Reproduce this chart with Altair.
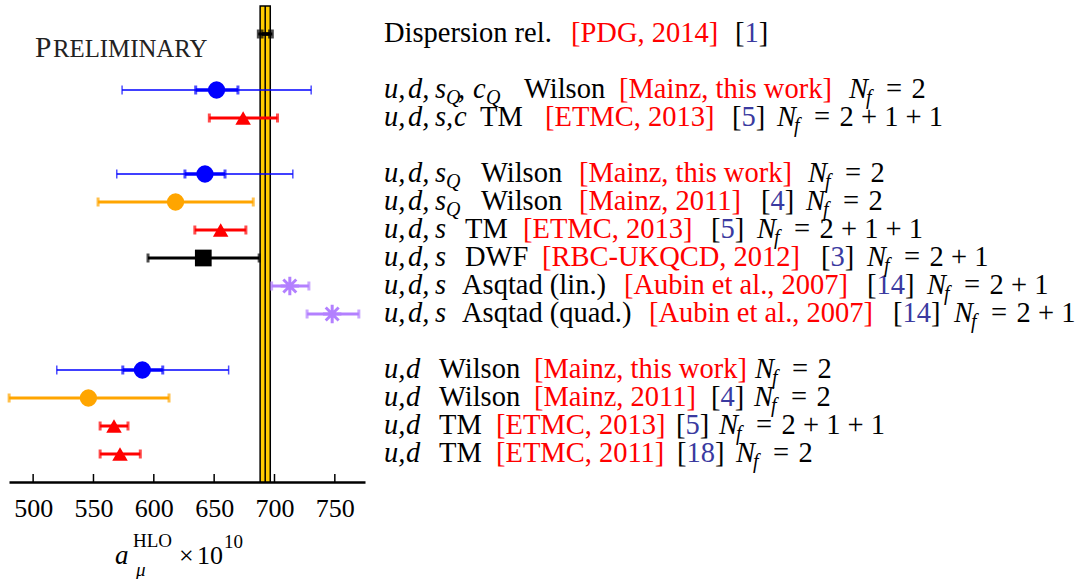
import altair as alt
import pandas as pd

# ------------------------------------------------------------------ data
rows    = [0, 2, 3, 5, 6, 7, 8, 9, 10, 12, 13, 14, 15]
centers = [692.3, 652.0, 674.0, 642.4, 618.0, 655.4, 641.0, 712.7, 747.8, 590.5, 545.8, 567.0, 572.0]
err_lo  = [686.6, 573.7, 646.0, 569.3, 553.8, 634.0, 595.2, 697.6, 727.0, 519.6, 480.1, 555.5, 555.5]
err_hi  = [698.2, 730.4, 702.5, 715.2, 682.4, 676.3, 687.3, 728.5, 769.9, 662.0, 612.6, 578.6, 588.8]
stat_rows = [0, 2, 5, 12]
stat_lo   = [689.7, 634.7, 625.8, 574.3]
stat_hi   = [695.9, 669.7, 659.0, 607.4]
series  = ["disp", "blue", "red", "blue", "orange", "red", "black", "violet", "violet",
           "blue", "orange", "red", "red"]
markers = ["none", "circle", "triangle", "circle", "circle", "triangle", "square",
           "asterisk", "asterisk", "circle", "circle", "triangle", "triangle"]

band_lo, band_hi, band_mid = 688.1, 696.5, 692.3
tick_values = [500, 550, 600, 650, 700, 750]

label_rows = [0, 2, 3, 5, 6, 7, 8, 9, 10, 12, 13, 14, 15]
quarks  = ["", "udsQcQ", "udsc", "udsQ", "udsQ", "uds", "uds", "uds", "uds", "ud", "ud", "ud", "ud"]
actions = ["Dispersion rel.", "Wilson", "TM", "Wilson", "Wilson", "TM", "DWF", "Asqtad (lin.)",
           "Asqtad (quad.)", "Wilson", "Wilson", "TM", "TM"]
groups  = ["[PDG, 2014]", "[Mainz, this work]", "[ETMC, 2013]", "[Mainz, this work]", "[Mainz, 2011]",
           "[ETMC, 2013]", "[RBC-UKQCD, 2012]", "[Aubin et al., 2007]", "[Aubin et al., 2007]",
           "[Mainz, this work]", "[Mainz, 2011]", "[ETMC, 2013]", "[ETMC, 2011]"]
refs    = ["1", "", "5", "", "4", "5", "3", "14", "14", "", "4", "5", "18"]
nflavs  = ["", "2", "2+1+1", "2", "2", "2+1+1", "2+1", "2+1", "2+1", "2", "2", "2+1+1", "2"]

# ------------------------------------------------------------------ layout / style
W, H = 356, 476
PADL, PADT = 10, 6          # image position of the plot origin
FONT = "Liberation Serif"
FS = 28.5
SUB = 20
COL = {"disp": "black", "blue": "#0000ff", "red": "#ff0000", "orange": "#ffa500",
       "black": "black", "violet": "#b380ff"}
REFBLUE = "#3a3aa0"
# math pieces: (text, image x, style) per quark pattern
MATH = {
    "udsQcQ": [("u,", 385, "i"), ("d,", 409, "i"), ("s", 436, "i"), ("Q", 447, "s"),
               (",", 459, "i"), ("c", 474, "i"), ("Q", 487, "s")],
    "udsc":   [("u,", 385, "i"), ("d,", 409, "i"), ("s,", 436, "i"), ("c", 455, "i")],
    "udsQ":   [("u,", 385, "i"), ("d,", 409, "i"), ("s", 436, "i"), ("Q", 447, "s")],
    "uds":    [("u,", 385, "i"), ("d,", 409, "i"), ("s", 436, "i")],
    "ud":     [("u,", 385, "i"), ("d", 407, "i")],
    "":       [],
}
act_x   = [385, 525, 481, 482, 482, 466, 466, 463, 463, 440, 440, 440, 440]
grp_x   = [572, 620, 546, 580, 580, 524, 543, 625, 650, 535, 535, 497, 497]
ref_x   = [736, None, 733, None, 762, 712, 822, 868, 894, None, 712, 677, 678]
nf_x    = [None, 850, 778, 809, 807, 758, 868, 928, 955, 756, 755, 720, 737]

segs = []  # (row, image_x, text, style, color)
for i, r in enumerate(label_rows):
    for t, x, st in MATH[quarks[i]]:
        segs.append((r, x, t, st, "black"))
    segs.append((r, act_x[i], actions[i], "n", "black"))
    segs.append((r, grp_x[i], groups[i], "n", "#ff0000"))
    if refs[i]:
        x0 = ref_x[i]
        segs.append((r, x0, "[", "n", "black"))
        segs.append((r, x0 + 0.333 * FS, refs[i], "n", REFBLUE))
        segs.append((r, x0 + 0.333 * FS + 0.5 * FS * len(refs[i]), "]", "n", "black"))
    if nflavs[i]:
        x0 = nf_x[i]
        segs.append((r, x0, "N", "i", "black"))
        segs.append((r, x0 + 17, "f", "s", "black"))
        rhs = "=\u2004" + "\u00a0+\u00a0".join(nflavs[i].split("+"))
        segs.append((r, x0 + 37, rhs, "n", "black"))

seg_df = pd.DataFrame(segs, columns=["row", "ix", "text", "style", "color"])
seg_df["px"] = seg_df["ix"] - PADL

df = pd.DataFrame({"row": rows, "c": centers, "lo": err_lo, "hi": err_hi,
                   "series": series, "marker": markers})
df["color"] = df["series"].map(COL)
stat_df = pd.DataFrame({"row": stat_rows, "lo": stat_lo, "hi": stat_hi})
stat_df["color"] = [COL["disp"]] + [COL["blue"]] * 3
caps_df = pd.concat([df[["row", "lo", "color", "series"]].rename(columns={"lo": "v"}),
                     df[["row", "hi", "color", "series"]].rename(columns={"hi": "v"})])
stat_caps = pd.concat([stat_df[["row", "lo", "color"]].rename(columns={"lo": "v"}),
                       stat_df[["row", "hi", "color"]].rename(columns={"hi": "v"})])

xs = alt.Scale(domain=[480, 775], nice=False, zero=False)
ys = alt.Scale(domain=[-1, 16], reverse=True, nice=False, zero=False)
NOAX = None

band = alt.Chart(pd.DataFrame({"lo": [band_lo], "hi": [band_hi]})).mark_rect(
    fill="#ffcc00", stroke="black", strokeWidth=1.5
).encode(
    x=alt.X("lo:Q", scale=xs, axis=alt.Axis(values=tick_values, ticks=False, grid=False,
            labelFont=FONT, labelFontSize=26, labelColor="black", labelPadding=13,
            domainColor="black", domainWidth=2.5, title=None, labelFlush=False)),
    x2="hi:Q", y=alt.value(0), y2=alt.value(H),
)
mid = alt.Chart(pd.DataFrame({"m": [band_mid]})).mark_rule(color="black", strokeWidth=1.5).encode(
    x=alt.X("m:Q", scale=xs), y=alt.value(0), y2=alt.value(H))

thin = df[df.series == "blue"]
thick = df[df.series != "blue"]
line_thin = alt.Chart(thin).mark_rule(strokeWidth=1.5).encode(
    x=alt.X("lo:Q", scale=xs), x2="hi:Q", y=alt.Y("row:Q", scale=ys, axis=NOAX),
    color=alt.Color("color:N", scale=None))
line_thick = alt.Chart(thick).mark_rule(strokeWidth=3).encode(
    x=alt.X("lo:Q", scale=xs), x2="hi:Q", y=alt.Y("row:Q", scale=ys, axis=NOAX),
    color=alt.Color("color:N", scale=None))
caps_thin = alt.Chart(caps_df[caps_df.series == "blue"]).mark_tick(
    orient="vertical", size=9, thickness=1.5).encode(
    x=alt.X("v:Q", scale=xs), y=alt.Y("row:Q", scale=ys, axis=NOAX),
    color=alt.Color("color:N", scale=None))
caps_thick = alt.Chart(caps_df[caps_df.series != "blue"]).mark_tick(
    orient="vertical", size=9, thickness=3).encode(
    x=alt.X("v:Q", scale=xs), y=alt.Y("row:Q", scale=ys, axis=NOAX),
    color=alt.Color("color:N", scale=None))
stat_line = alt.Chart(stat_df).mark_rule(strokeWidth=3.5).encode(
    x=alt.X("lo:Q", scale=xs), x2="hi:Q", y=alt.Y("row:Q", scale=ys, axis=NOAX),
    color=alt.Color("color:N", scale=None))
stat_cap = alt.Chart(stat_caps).mark_tick(orient="vertical", size=9, thickness=3).encode(
    x=alt.X("v:Q", scale=xs), y=alt.Y("row:Q", scale=ys, axis=NOAX),
    color=alt.Color("color:N", scale=None))

shape_map = {"circle": "circle", "triangle": "triangle-up", "square": "square"}
filled = df[df.marker.isin(shape_map)].copy()
filled["shape"] = filled["marker"].map(shape_map)
filled["sz"] = filled["marker"].map({"circle": 300, "triangle": 240, "square": 280})
pts = alt.Chart(filled).mark_point(filled=True, opacity=1).encode(
    x=alt.X("c:Q", scale=xs), y=alt.Y("row:Q", scale=ys, axis=NOAX),
    color=alt.Color("color:N", scale=None), shape=alt.Shape("shape:N", scale=None),
    size=alt.Size("sz:Q", scale=None))
ast = alt.Chart(df[df.marker == "asterisk"]).mark_point(
    shape="M0,-1L0,1M-0.7,-0.7L0.7,0.7M-0.7,0.7L0.7,-0.7M-1,0L1,0",
    filled=False, strokeWidth=3, size=340, opacity=1).encode(
    x=alt.X("c:Q", scale=xs), y=alt.Y("row:Q", scale=ys, axis=NOAX),
    color=alt.Color("color:N", scale=None))

ticks = alt.Chart(pd.DataFrame({"t": tick_values})).mark_rule(color="black", strokeWidth=1.5).encode(
    x=alt.X("t:Q", scale=xs), y=alt.value(H - 8), y2=alt.value(H))

prelim = (
    alt.Chart(pd.DataFrame({"t": ["P"]})).mark_text(
        align="left", baseline="alphabetic", font=FONT, fontSize=29.5, color="#222222")
    .encode(text="t:N", x=alt.value(36 - PADL), y=alt.value(56.5 - PADT))
    + alt.Chart(pd.DataFrame({"t": ["RELIMINARY"]})).mark_text(
        align="left", baseline="alphabetic", font=FONT, fontSize=24.8, color="#222222")
    .encode(text="t:N", x=alt.value(54 - PADL), y=alt.value(56.5 - PADT))
)

def seg_layer(style):
    d = seg_df[seg_df["style"] == style]
    kw = dict(align="left", baseline="alphabetic", font=FONT)
    if style == "n":
        m = alt.Chart(d).mark_text(fontSize=FS, dy=8, **kw)
    elif style == "i":
        m = alt.Chart(d).mark_text(fontSize=FS, dy=8, fontStyle="italic", **kw)
    else:
        m = alt.Chart(d).mark_text(fontSize=SUB, dy=14, fontStyle="italic", **kw)
    return m.encode(x=alt.X("px:Q", scale=None), y=alt.Y("row:Q", scale=ys, axis=NOAX),
                    text="text:N", color=alt.Color("color:N", scale=None))

labels = seg_layer("n") + seg_layer("i") + seg_layer("s")

# axis title a_mu^HLO x 10^10 (image pixel positions)
title_df = pd.DataFrame({
    "text": ["a", "\u03bc", "HLO", "\u00d7", "10", "10"],
    "ix":   [116, 137, 134, 180, 198, 225],
    "iy":   [564, 576, 547, 564, 564, 548],
    "kind": ["mi", "ms", "sup", "n", "n", "sup"],
})
title_df["px"] = title_df["ix"] - PADL
title_df["py"] = title_df["iy"] - PADT

def title_layer(kind, size, style):
    d = title_df[title_df.kind == kind]
    kw = dict(align="left", baseline="alphabetic", font=FONT, fontSize=size, color="black")
    if style:
        kw["fontStyle"] = style
    return alt.Chart(d).mark_text(**kw).encode(
        x=alt.X("px:Q", scale=None), y=alt.Y("py:Q", scale=None), text="text:N")

title = (title_layer("mi", 27, "italic") + title_layer("ms", 19, "italic")
         + title_layer("sup", 19, None) + title_layer("n", 26, None))

chart = alt.layer(
    band, mid, line_thin, line_thick, caps_thin, caps_thick, stat_line, stat_cap,
    pts, ast, ticks, prelim, labels, title
).properties(
    width=W, height=H,
    padding={"left": PADL - 3, "top": PADT - 1, "right": 0, "bottom": 0},
    background="white",
).configure_view(stroke=None)

chart.save("out.html", embed_options={"renderer": "svg", "actions": False})
